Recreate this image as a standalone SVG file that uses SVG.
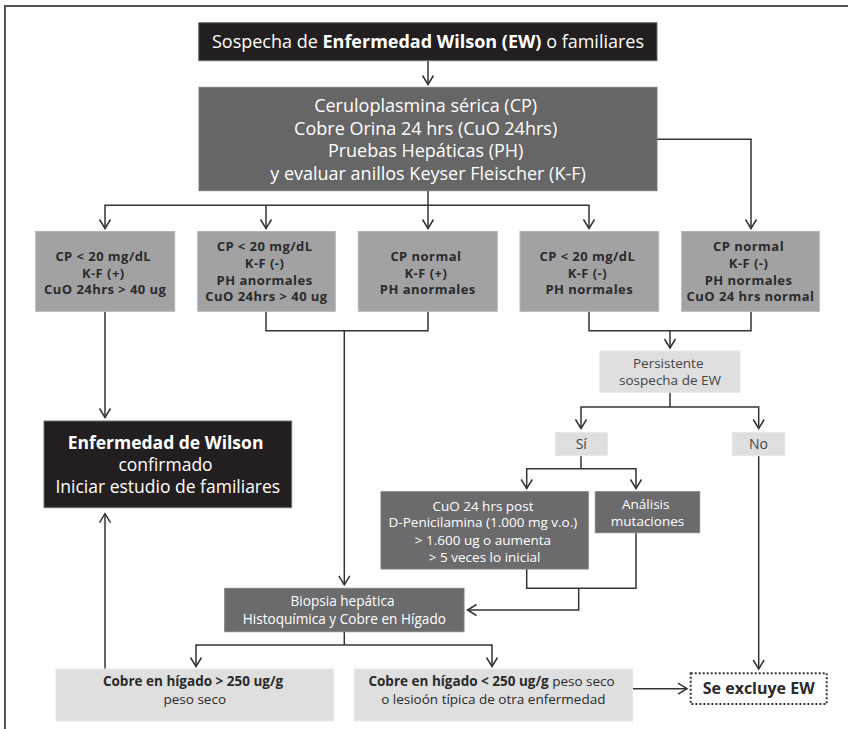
<svg xmlns="http://www.w3.org/2000/svg" width="848" height="729" viewBox="0 0 848 729">
  <style>
    text { font-family: "Open Sans", "Noto Sans", "DejaVu Sans", sans-serif; text-anchor: middle; }
    .b { font-weight: bold; }
    .white { fill: #ffffff; }
    .dark { fill: #2a2a2a; }
    .mid { fill: #444444; }
    .blk { fill: #231f20; stroke: #6e6e6e; stroke-width: 1; }
    .main { fill: #666666; stroke: #7a7a7a; stroke-width: 1; }
    .cond { fill: #a2a2a4; stroke: #b4b4b6; stroke-width: 1; }
    .light { fill: #dfdfe0; stroke: #e8e8e8; stroke-width: 1; }
    .op { fill: #6b6b6d; stroke: #808080; stroke-width: 1; }
    .dash { fill: #ffffff; stroke: #333333; stroke-width: 2; stroke-dasharray: 2 2; }
    .ln { fill: none; stroke: #333333; stroke-width: 1.5; }
    .ar { fill: none; stroke: #333333; stroke-width: 1.5; marker-end: url(#chev); }
    .cnd { font-size: 13px; letter-spacing: 0.45px; }
    .t135 { font-size: 13.5px; }
  </style>
  <defs>
    <marker id="chev" viewBox="-11 -7 13 14" refX="0" refY="0" markerWidth="13" markerHeight="14" markerUnits="userSpaceOnUse" orient="auto">
      <path d="M-9,-5.5 L0,0 L-9,5.5" fill="none" stroke="#333333" stroke-width="1.5"/>
    </marker>
  </defs>

  <rect width="848" height="729" fill="#ffffff"/>

  <!-- frame -->
  <path d="M5,729 V6 H848" fill="none" stroke="#555555" stroke-width="2"/>

  <g id="connectors">
    <path class="ar" d="M428,61 V84.5"/>
    <path class="ln" d="M428,191 V205.3"/>
    <path class="ar" d="M428,205.3 V228.5"/>
    <path class="ar" d="M428,205.3 H105 V228.5"/>
    <path class="ar" d="M266,205.3 V228.5"/>
    <path class="ar" d="M428,205.3 H589 V228.5"/>
    <path class="ar" d="M657,139.3 H751 V228.5"/>
    <path class="ar" d="M105,311.5 V417.5"/>
    <path class="ln" d="M266,311.5 V330.7 H428 V311.5"/>
    <path class="ar" d="M344.3,330.7 V584.8"/>
    <path class="ln" d="M589,311.5 V330.7 H751 V311.5"/>
    <path class="ar" d="M670,330.7 V348"/>
    <path class="ln" d="M670,392.3 V407"/>
    <path class="ar" d="M670,407 H581 V428.5"/>
    <path class="ar" d="M670,407 H758.7 V428.5"/>
    <path class="ln" d="M581,455.7 V468.7"/>
    <path class="ar" d="M581,468.7 H526.7 V488.5"/>
    <path class="ar" d="M581,468.7 H636 V488.5"/>
    <path class="ln" d="M526.7,569 V588.3 H636 V532.7"/>
    <path class="ar" d="M578.7,588.3 V610 H467.5"/>
    <path class="ar" d="M758.7,455.7 V669"/>
    <path class="ln" d="M344.3,631.7 V645"/>
    <path class="ar" d="M344.3,645 H196 V666.5"/>
    <path class="ar" d="M344.3,645 H492 V666.5"/>
    <path class="ar" d="M105,669 V513.7"/>
    <path class="ar" d="M632.5,688.7 H687"/>
  </g>

  <g id="sospecha">
    <rect class="blk" x="198.7" y="22.7" width="458.3" height="38"/>
    <text class="white" x="428" y="48" font-size="18">Sospecha de <tspan class="b">Enfermedad Wilson (EW)</tspan> o familiares</text>
  </g>

  <g id="estudio">
    <rect class="main" x="199" y="87.3" width="458" height="103.4"/>
    <text class="white" font-size="18">
      <tspan x="428" y="112.2">Ceruloplasmina sérica (CP)</tspan>
      <tspan x="428" y="134.7">Cobre Orina 24 hrs (CuO 24hrs)</tspan>
      <tspan x="428" y="157.2">Pruebas Hepáticas (PH)</tspan>
      <tspan x="428" y="179.8">y evaluar anillos Keyser Fleischer (K-F)</tspan>
    </text>
  </g>

  <g id="caso1">
    <rect class="cond" x="35.7" y="231.5" width="139" height="79.8"/>
    <text class="dark b cnd">
      <tspan x="105.2" y="261">CP &lt; 20 mg/dL</tspan>
      <tspan x="105.2" y="277.6">K-F (+)</tspan>
      <tspan x="105.2" y="294.2">CuO 24hrs &gt; 40 ug</tspan>
    </text>
  </g>

  <g id="caso2">
    <rect class="cond" x="197.7" y="231.5" width="137.6" height="79.8"/>
    <text class="dark b cnd">
      <tspan x="266.5" y="251.3">CP &lt; 20 mg/dL</tspan>
      <tspan x="266.5" y="267.9">K-F (-)</tspan>
      <tspan x="266.5" y="284.6">PH anormales</tspan>
      <tspan x="266.5" y="301.3">CuO 24hrs &gt; 40 ug</tspan>
    </text>
  </g>

  <g id="caso3">
    <rect class="cond" x="358.3" y="231.5" width="139" height="79.8"/>
    <text class="dark b cnd">
      <tspan x="427.8" y="261">CP normal</tspan>
      <tspan x="427.8" y="277.6">K-F (+)</tspan>
      <tspan x="427.8" y="294.2">PH anormales</tspan>
    </text>
  </g>

  <g id="caso4">
    <rect class="cond" x="520" y="231.5" width="138.7" height="79.8"/>
    <text class="dark b cnd">
      <tspan x="589.3" y="261">CP &lt; 20 mg/dL</tspan>
      <tspan x="589.3" y="277.6">K-F (-)</tspan>
      <tspan x="589.3" y="294.2">PH normales</tspan>
    </text>
  </g>

  <g id="caso5">
    <rect class="cond" x="681.7" y="231.5" width="137.6" height="79.8"/>
    <text class="dark b cnd">
      <tspan x="750.5" y="251.3">CP normal</tspan>
      <tspan x="750.5" y="267.9">K-F (-)</tspan>
      <tspan x="750.5" y="284.6">PH normales</tspan>
      <tspan x="750.5" y="301.3">CuO 24 hrs normal</tspan>
    </text>
  </g>

  <g id="confirmado">
    <rect class="blk" x="44" y="421" width="247.7" height="86.7"/>
    <text class="white" font-size="17.5">
      <tspan class="b" x="167.8" y="448.5">Enfermedad de Wilson</tspan>
      <tspan x="167.8" y="470.5">confirmado</tspan>
      <tspan x="167.8" y="492.9">Iniciar estudio de familiares</tspan>
    </text>
  </g>

  <g id="persistente">
    <rect class="light" x="599.7" y="351" width="140.3" height="41.3"/>
    <text class="mid t135">
      <tspan x="670" y="367.7">Persistente</tspan>
      <tspan x="670" y="385">sospecha de EW</tspan>
    </text>
  </g>

  <g id="si">
    <rect class="light" x="555.3" y="432.3" width="52" height="23.4"/>
    <text class="mid" font-size="14" x="581.3" y="449">Sí</text>
  </g>

  <g id="no">
    <rect class="light" x="732.3" y="432.3" width="52.4" height="23.4"/>
    <text class="mid" font-size="14" x="758.5" y="449">No</text>
  </g>

  <g id="penicilamina">
    <rect class="op" x="381" y="491.7" width="207.3" height="77.3"/>
    <text class="white t135">
      <tspan x="484.7" y="510.7">CuO 24 hrs post</tspan>
      <tspan x="484.7" y="527.4">D-Penicilamina (1.000 mg v.o.)</tspan>
      <tspan x="484.7" y="544.7">&gt; 1.600 ug o aumenta</tspan>
      <tspan x="484.7" y="562">&gt; 5 veces lo inicial</tspan>
    </text>
  </g>

  <g id="mutaciones">
    <rect class="op" x="595.3" y="491.7" width="104.4" height="41"/>
    <text class="white t135">
      <tspan x="647.5" y="508.7">Análisis</tspan>
      <tspan x="647.5" y="525.7">mutaciones</tspan>
    </text>
  </g>

  <g id="biopsia">
    <rect class="op" x="224.7" y="588.3" width="239.3" height="43.4"/>
    <text class="white" font-size="13.6">
      <tspan x="344.3" y="606.4">Biopsia hepática</tspan>
      <tspan x="344.3" y="624">Histoquímica y Cobre en Hígado</tspan>
    </text>
  </g>

  <g id="cobre-alto">
    <rect class="light" x="56" y="669" width="277.7" height="52"/>
    <text class="dark t135">
      <tspan class="b" x="194.8" y="686">Cobre en hígado &gt; 250 ug/g</tspan>
      <tspan x="194.8" y="704">peso seco</tspan>
    </text>
  </g>

  <g id="cobre-bajo">
    <rect class="light" x="354.2" y="669" width="278.3" height="52"/>
    <text class="dark t135">
      <tspan x="493.3" y="686"><tspan class="b">Cobre en hígado &lt; 250 ug/g</tspan> peso seco</tspan>
      <tspan x="493.3" y="704">o lesioón típica de otra enfermedad</tspan>
    </text>
  </g>

  <g id="excluye">
    <rect class="dash" x="690.7" y="673.3" width="136" height="30.7"/>
    <text class="dark b" font-size="16" x="758.7" y="694.3">Se excluye EW</text>
  </g>
</svg>
